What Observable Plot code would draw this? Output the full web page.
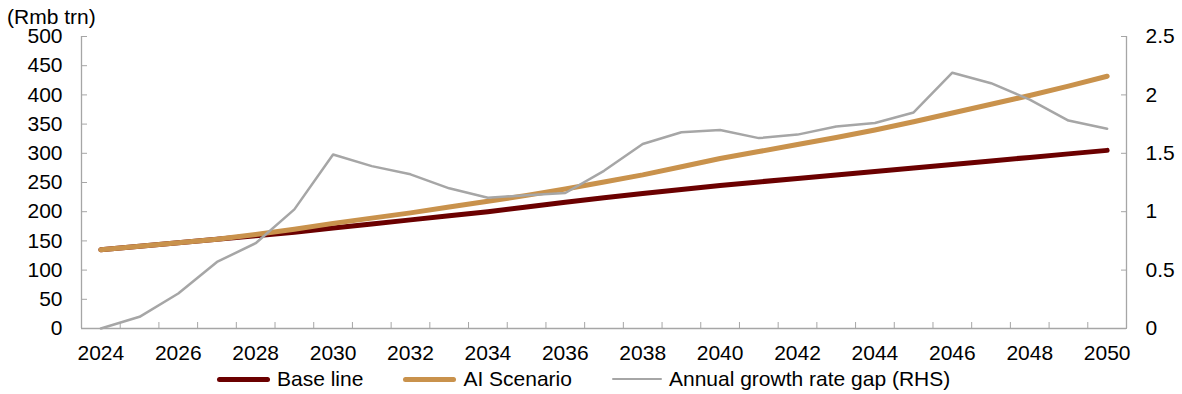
<!DOCTYPE html>
<html>
<head>
<meta charset="utf-8">
<script src="https://cdn.jsdelivr.net/npm/d3@7"></script>
<script src="https://cdn.jsdelivr.net/npm/@observablehq/plot@0.6"></script>
<style>
  html, body { margin: 0; padding: 0; background: #fff; }
  #wrap { position: relative; width: 1182px; height: 394px; font-family: "Liberation Sans", Arial, sans-serif; color: #000; }
  #chart svg { display: block; }
  #unit { position: absolute; left: 7px; top: 5px; font-size: 21px; line-height: 24px; }
  #legend { position: absolute; left: 217px; top: 362px; display: flex; align-items: center; height: 34px; font-size: 21px; white-space: nowrap; }
  .item { display: flex; align-items: center; margin-right: 40px; }
  .sw { display: inline-block; border-radius: 3px; margin-right: 7px; }
</style>
</head>
<body>
<div id="wrap">
  <div id="chart"></div>
  <div id="unit">(Rmb trn)</div>
  <div id="legend"></div>
</div>
<script>
const years = [2024, 2025, 2026, 2027, 2028, 2029, 2030, 2031, 2032, 2033, 2034, 2035, 2036, 2037,
               2038, 2039, 2040, 2041, 2042, 2043, 2044, 2045, 2046, 2047, 2048, 2049, 2050];
const baseLine = [135, 141, 147, 153, 159, 165, 172, 179, 186, 193, 200, 208, 216, 224,
                  231, 238, 245, 251, 257, 263, 269, 275, 281, 287, 293, 299, 305];
const aiScenario = [135, 141, 147, 153, 161, 170, 180, 189, 198, 208, 218, 228, 239, 251,
                    263, 277, 291, 303, 315, 327, 340, 354, 369, 384, 399, 415, 432];
const growthGap = [0, 0.1, 0.3, 0.57, 0.73, 1.02, 1.49, 1.39, 1.32, 1.2, 1.12, 1.14, 1.16, 1.35,
                   1.58, 1.68, 1.7, 1.63, 1.66, 1.73, 1.76, 1.85, 2.19, 2.1, 1.96, 1.78, 1.71];
const xTickLabels = [2024, 2026, 2028, 2030, 2032, 2034, 2036, 2038, 2040, 2042, 2044, 2046, 2048, 2050];
const leftTicks = [0, 50, 100, 150, 200, 250, 300, 350, 400, 450, 500];
const rightTicks = [0, 0.5, 1, 1.5, 2, 2.5];
const seriesNames = ["Base line", "AI Scenario", "Annual growth rate gap (RHS)"];
const seriesColors = ["#6b0000", "#c9924c", "#a6a6a6"];

const leftMax = 500, rightMax = 2.5;
const k = leftMax / rightMax; // RHS values mapped onto the left scale

const rows = years.map((y, i) => ({year: y, base: baseLine[i], ai: aiScenario[i], gap: growthGap[i]}));
const bounds = years.map(y => y - 0.5).concat([years[years.length - 1] + 0.5]);
const axisColor = "#a6a6a6";

const chart = Plot.plot({
  width: 1182,
  height: 394,
  marginLeft: 81,
  marginRight: 56,
  marginTop: 36,
  marginBottom: 66,
  style: {fontFamily: "'Liberation Sans', Arial, sans-serif", fontSize: "21px", color: "#000", background: "#fff"},
  x: {type: "linear", domain: [bounds[0], bounds[bounds.length - 1]]},
  y: {domain: [0, leftMax]},
  marks: [
    Plot.axisX({ticks: xTickLabels, tickSize: 0, tickPadding: 17, tickFormat: d => String(d), label: null}),
    Plot.axisX({ticks: bounds, tickSize: -6, stroke: axisColor, tickFormat: () => "", label: null}),
    Plot.axisY({ticks: leftTicks, tickSize: 0, tickPadding: 19, label: null}),
    Plot.axisY({ticks: leftTicks, tickSize: -6, stroke: axisColor, tickFormat: () => "", label: null}),
    Plot.axisY({anchor: "right", ticks: rightTicks.map(v => v * k), tickSize: 0, tickPadding: 19, tickFormat: d => String(d / k), label: null}),
    Plot.axisY({anchor: "right", ticks: rightTicks.map(v => v * k), tickSize: -6, stroke: axisColor, tickFormat: () => "", label: null}),
    Plot.ruleY([0], {stroke: axisColor, strokeWidth: 1.3}),
    Plot.ruleX([bounds[0], bounds[bounds.length - 1]], {stroke: axisColor, strokeWidth: 1.3}),
    Plot.line(rows, {x: "year", y: "base", stroke: seriesColors[0], strokeWidth: 5, strokeLinecap: "round"}),
    Plot.line(rows, {x: "year", y: "ai", stroke: seriesColors[1], strokeWidth: 5, strokeLinecap: "round"}),
    Plot.line(rows, {x: "year", y: d => d.gap * k, stroke: seriesColors[2], strokeWidth: 2.5})
  ]
});
document.getElementById("chart").appendChild(chart);

const legend = document.getElementById("legend");
seriesNames.forEach((name, i) => {
  const item = document.createElement("div");
  item.className = "item";
  const sw = document.createElement("span");
  sw.className = "sw";
  sw.style.width = (i === 2 ? 50 : 53) + "px";
  sw.style.height = (i === 2 ? 2.5 : 5) + "px";
  sw.style.background = seriesColors[i];
  item.appendChild(sw);
  const t = document.createElement("span");
  t.textContent = name;
  item.appendChild(t);
  legend.appendChild(item);
});
</script>
</body>
</html>
